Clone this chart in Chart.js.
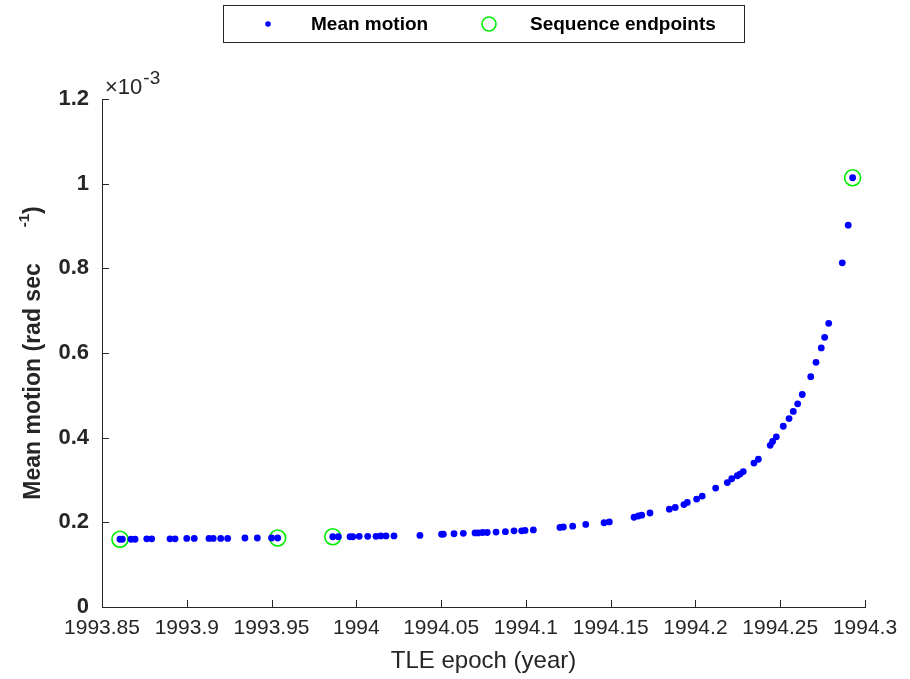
<!DOCTYPE html>
<html>
<head>
<meta charset="utf-8">
<script src="https://cdn.jsdelivr.net/npm/chart.js@4"></script>
<style>
  html, body { margin: 0; padding: 0; background: #fff; }
</style>
</head>
<body>
<canvas id="myChart" width="910" height="679"></canvas>
<script>
// TLE epochs (decimal year) and mean motion (x 1e-3 rad/s)
const epochs = [
  1993.8606, 1993.8620, 1993.8671, 1993.8695, 1993.8764, 1993.8793, 1993.8901, 1993.8931,
  1993.9000, 1993.9044, 1993.9131, 1993.9156, 1993.9200, 1993.9241, 1993.9343, 1993.9416,
  1993.9500, 1993.9536,
  1993.9861, 1993.9894, 1993.9963, 1993.9979, 1994.0017, 1994.0067, 1994.0116, 1994.0144,
  1994.0175, 1994.0222, 1994.0375, 1994.0503, 1994.0513, 1994.0576, 1994.0631, 1994.0700,
  1994.0719, 1994.0745, 1994.0772, 1994.0824, 1994.0879, 1994.0930, 1994.0975, 1994.0995,
  1994.1044, 1994.1201, 1994.1221, 1994.1276, 1994.1353, 1994.1461, 1994.1492, 1994.1638,
  1994.1663, 1994.1683, 1994.1732, 1994.1846, 1994.1881, 1994.1932, 1994.1952, 1994.2007,
  1994.2040, 1994.2119, 1994.2188, 1994.2214, 1994.2247, 1994.2263, 1994.2282, 1994.2345,
  1994.2371, 1994.2441, 1994.2455, 1994.2477, 1994.2518, 1994.2552, 1994.2577, 1994.2603,
  1994.2630, 1994.2680, 1994.2711, 1994.2742, 1994.2762, 1994.2786, 1994.2866, 1994.2901,
  1994.2927
];
const meanMotion = [
  0.160, 0.160, 0.160, 0.160, 0.161, 0.161, 0.161, 0.161,
  0.162, 0.162, 0.162, 0.162, 0.162, 0.162, 0.163, 0.163,
  0.163, 0.163,
  0.166, 0.166, 0.166, 0.166, 0.167, 0.167, 0.167, 0.168,
  0.168, 0.168, 0.169, 0.172, 0.172, 0.173, 0.174, 0.175,
  0.175, 0.176, 0.176, 0.177, 0.178, 0.180, 0.180, 0.181,
  0.182, 0.188, 0.189, 0.191, 0.195, 0.199, 0.201, 0.212,
  0.215, 0.217, 0.222, 0.231, 0.235, 0.242, 0.247, 0.255,
  0.262, 0.281, 0.294, 0.303, 0.310, 0.314, 0.320, 0.340,
  0.349, 0.382, 0.391, 0.402, 0.427, 0.445, 0.462, 0.480,
  0.502, 0.544, 0.578, 0.612, 0.637, 0.670, 0.813, 0.902,
  1.014
];
const endpointEpochs = [1993.8606, 1993.9536, 1993.9861, 1994.2927];
const endpointMotion = [0.160, 0.163, 0.166, 1.014];

const xTicks = [1993.85, 1993.9, 1993.95, 1994, 1994.05, 1994.1, 1994.15, 1994.2, 1994.25, 1994.3];
const yTicks = [0, 0.2, 0.4, 0.6, 0.8, 1, 1.2];

const ink = '#262626';
const fontFam = '"Liberation Sans", Arial, Helvetica, sans-serif';

const toPoints = (xs, ys) => xs.map((v, i) => ({ x: v, y: ys[i] }));

const extras = {
  id: 'extras',
  beforeDatasetsDraw(chart) {
    // inward tick marks
    const { ctx, chartArea: a, scales: { x, y } } = chart;
    ctx.save();
    ctx.strokeStyle = ink;
    ctx.lineWidth = 1;
    ctx.beginPath();
    x.ticks.forEach(t => {
      const px = Math.round(x.getPixelForValue(t.value)) + 0.5;
      ctx.moveTo(px, a.bottom);
      ctx.lineTo(px, a.bottom - 7);
    });
    y.ticks.forEach(t => {
      const py = Math.round(y.getPixelForValue(t.value)) + 0.5;
      ctx.moveTo(a.left, py);
      ctx.lineTo(a.left + 7, py);
    });
    ctx.stroke();
    ctx.restore();
  },
  afterDraw(chart) {
    const { ctx, chartArea: a } = chart;
    const ds = chart.data.datasets;

    // legend box
    ctx.save();
    ctx.fillStyle = '#fff';
    ctx.fillRect(223, 5, 521, 37);
    ctx.strokeStyle = ink;
    ctx.lineWidth = 1;
    ctx.strokeRect(223.5, 5.5, 521, 37);
    ctx.font = 'bold 19px ' + fontFam;
    ctx.textBaseline = 'middle';
    ctx.beginPath();
    ctx.arc(268, 24, 2.8, 0, Math.PI * 2);
    ctx.fillStyle = ds[0].backgroundColor;
    ctx.fill();
    ctx.fillStyle = '#000';
    ctx.fillText(ds[0].label, 311, 25);
    ctx.beginPath();
    ctx.arc(489, 24, 7, 0, Math.PI * 2);
    ctx.strokeStyle = ds[1].borderColor;
    ctx.lineWidth = ds[1].borderWidth;
    ctx.stroke();
    ctx.fillText(ds[1].label, 530, 25);
    ctx.restore();

    // y axis title with superscript
    ctx.save();
    ctx.fillStyle = ink;
    ctx.translate(34, (a.top + a.bottom) / 2);
    ctx.rotate(-Math.PI / 2);
    ctx.textBaseline = 'middle';
    ctx.textAlign = 'left';
    const big = 'bold 23px ' + fontFam;
    const small = 'bold 15px ' + fontFam;
    const main = 'Mean motion (rad sec';
    ctx.font = big;
    const w1 = ctx.measureText(main).width;
    const wp = ctx.measureText(')').width;
    ctx.font = small;
    const ws = ctx.measureText('-1').width;
    const gap = 36;
    const total = w1 + gap + ws + wp;
    const s = -total / 2;
    ctx.font = big;
    ctx.fillText(main, s, 0);
    ctx.font = small;
    ctx.fillText('-1', s + w1 + gap, -9);
    ctx.font = big;
    ctx.fillText(')', s + w1 + gap + ws, 0);
    ctx.restore();

    // exponent label
    ctx.save();
    ctx.fillStyle = ink;
    ctx.textBaseline = 'alphabetic';
    ctx.font = '22px ' + fontFam;
    ctx.fillText('\u00d710', a.left + 3, a.top - 5);
    const we = ctx.measureText('\u00d710').width;
    ctx.font = '19px ' + fontFam;
    ctx.fillText('-3', a.left + 4 + we, a.top - 15);
    ctx.restore();
  }
};

const ctx1 = document.getElementById('myChart');

const scatterChart = new Chart(ctx1, {
  type: 'scatter',
  data: {
    datasets: [
      {
        label: 'Mean motion',
        data: toPoints(epochs, meanMotion),
        pointRadius: 3.4,
        pointBorderWidth: 0,
        backgroundColor: '#0000ff',
        borderColor: '#0000ff',
      },
      {
        label: 'Sequence endpoints',
        data: toPoints(endpointEpochs, endpointMotion),
        pointRadius: 8,
        borderWidth: 1.6,
        backgroundColor: 'rgba(0,0,0,0)',
        borderColor: '#00ee00',
      },
    ],
  },
  options: {
    responsive: false,
    animation: false,
    events: [],
    layout: { padding: { top: 99, right: 45, bottom: 0, left: 0 } },
    plugins: {
      legend: { display: false },
      tooltip: { enabled: false },
    },
    scales: {
      x: {
        type: 'linear',
        min: 1993.85,
        max: 1994.3,
        afterBuildTicks: s => { s.ticks = xTicks.map(v => ({ value: v })); },
        afterFit: s => { s.height = 72; },
        grid: { display: false, drawTicks: false },
        border: { display: true, color: ink, width: 1 },
        ticks: {
          autoSkip: false,
          maxRotation: 0,
          padding: 9,
          color: ink,
          font: { family: fontFam, size: 21 },
          callback: v => String(+v.toFixed(2)),
        },
        title: {
          display: true,
          text: 'TLE epoch (year)',
          color: ink,
          font: { family: fontFam, size: 24 },
          padding: { top: 0, bottom: 3 },
        },
      },
      y: {
        type: 'linear',
        min: 0,
        max: 1.2,
        afterBuildTicks: s => { s.ticks = yTicks.map(v => ({ value: v })); },
        afterFit: s => { s.width = 102; },
        grid: { display: false, drawTicks: false },
        border: { display: true, color: ink, width: 1 },
        ticks: {
          padding: 13,
          color: ink,
          font: { family: fontFam, size: 22, weight: 'bold' },
          callback: v => String(+v.toFixed(1)),
        },
      },
    },
  },
  plugins: [extras],
});
</script>
</body>
</html>
